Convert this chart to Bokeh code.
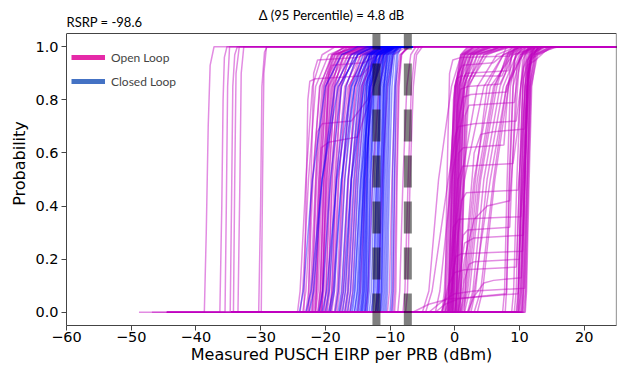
import math
from bokeh.plotting import figure
from bokeh.models import Legend, LegendItem, Label, FixedTicker, Range1d, ColumnDataSource
from bokeh.embed import file_html
from bokeh.resources import INLINE

# ---------------- data ----------------
X_TICKS = [-60, -50, -40, -30, -20, -10, 0, 10, 20]
X_TICK_LABELS = ["\u221260", "\u221250", "\u221240", "\u221230", "\u221220", "\u221210", "0", "10", "20"]
Y_TICKS = [0.0, 0.2, 0.4, 0.6, 0.8, 1.0]
Y_TICK_LABELS = ["0.0", "0.2", "0.4", "0.6", "0.8", "1.0"]

# 95th-percentile markers (closed loop, open loop)
P95_X = [-12.1, -7.25]

# probability levels for single-rise CDF curves (x values given per curve)
P_LEVELS = [0.0, 0.08, 0.5, 0.85, 0.97, 1.0]

# open loop: isolated far-left curves, (x, p) knots
OL_FAR_START = [-48.8, -46.8, -44.5, -44.5, -44.5, -44.5, -44.5, -44.5]
OL_FAR = [
    [(-38.7, 0), (-38.4, 0.3), (-38.1, 0.7), (-37.8, 0.93), (-37.2, 1)],
    [(-36.3, 0), (-36.0, 0.4), (-35.8, 0.8), (-35.6, 0.96), (-35.2, 1)],
    [(-35.5, 0), (-35.3, 0.4), (-35.1, 0.85), (-34.8, 1)],
    [(-34.7, 0), (-34.5, 0.4), (-34.3, 0.85), (-34.0, 0.97), (-33.6, 1)],
    [(-34.2, 0), (-34.0, 0.5), (-33.8, 0.9), (-33.3, 1)],
    [(-33.5, 0), (-33.2, 0.5), (-33.0, 0.9), (-32.6, 1)],
    [(-30.3, 0), (-30.0, 0.4), (-29.8, 0.85), (-29.4, 0.98), (-29.0, 1)],
    [(-29.9, 0), (-29.7, 0.5), (-29.5, 0.9), (-29.1, 1)],
]

# open loop: main left cluster, x at P_LEVELS
OL_LEFT_START = -34.5
OL_LEFT_END = -6.0
OL_LEFT = [
    [-24.3, -23.9, -23.0, -22.0, -20.5, -18.5],
    [-23.5, -23.0, -22.0, -20.8, -19.0, -17.0],
    [-22.8, -22.3, -21.5, -20.5, -18.5, -15.5],
    [-22.2, -21.8, -21.0, -20.0, -17.5, -14.0],
    [-21.8, -21.4, -20.8, -19.8, -18.5, -16.0],
    [-21.5, -21.1, -20.5, -19.5, -17.0, -13.0],
    [-21.2, -20.8, -20.2, -19.0, -16.5, -12.5],
    [-20.9, -20.5, -19.8, -18.7, -17.0, -14.5],
    [-20.6, -20.2, -19.5, -18.5, -16.0, -11.5],
    [-20.3, -19.9, -19.2, -18.0, -15.0, -11.0],
    [-20.0, -19.6, -18.9, -17.8, -16.0, -13.5],
    [-19.7, -19.3, -18.6, -17.5, -15.5, -12.0],
    [-19.4, -19.0, -18.3, -17.0, -14.5, -10.5],
    [-19.0, -18.6, -17.9, -16.8, -15.0, -12.5],
    [-18.6, -18.2, -17.4, -16.3, -14.0, -10.0],
    [-18.2, -17.8, -17.0, -15.8, -13.5, -11.0],
    [-17.8, -17.4, -16.5, -15.2, -13.0, -9.5],
    [-17.3, -16.9, -16.0, -14.8, -13.2, -11.0],
    [-16.8, -16.4, -15.5, -14.2, -12.5, -10.0],
    [-16.2, -15.8, -15.0, -13.8, -12.0, -9.0],
    [-15.0, -14.6, -13.8, -12.8, -11.2, -9.0],
    [-13.8, -13.4, -12.7, -11.7, -10.5, -8.0],
    [-12.2, -11.8, -11.2, -10.4, -9.5, -7.5],
    [-10.4, -10.1, -9.7, -9.2, -8.5, -7.0],
    [-9.8, -9.6, -9.3, -8.9, -8.3, -7.0],
    [-9.5, -9.3, -9.0, -8.7, -8.3, -7.2],
    [-9.3, -9.1, -8.9, -8.6, -8.2, -7.4],
    [-8.8, -8.5, -8.0, -7.4, -6.8, -6.0],
    [-8.0, -7.7, -7.2, -6.7, -6.2, -5.5],
    [-22.0, -21.6, -21.0, -20.2, -19.0, -15.0],
    [-20.8, -20.4, -19.7, -18.9, -17.8, -14.0],
    [-19.2, -18.8, -18.0, -16.5, -13.5, -9.0],
    [-21.0, -20.7, -20.2, -19.4, -18.0, -16.5],
    [-17.0, -16.6, -15.9, -14.5, -12.0, -8.5],
    [-23.9, -23.5, -22.6, -21.5, -19.5, -16.5],
    [-22.5, -22.1, -21.3, -20.3, -18.0, -13.5],
    [-21.6, -21.3, -20.7, -19.9, -18.8, -17.0],
    [-21.1, -20.8, -20.3, -19.6, -18.2, -15.5],
    [-20.7, -20.4, -19.9, -19.2, -17.5, -13.0],
    [-20.2, -19.9, -19.4, -18.6, -17.2, -14.8],
    [-19.8, -19.5, -19.0, -18.2, -16.5, -12.0],
    [-19.3, -19.0, -18.4, -17.6, -16.2, -13.8],
    [-18.4, -18.0, -17.3, -16.2, -14.5, -11.5],
    [-17.6, -17.2, -16.4, -15.4, -13.8, -10.5],
    [-16.5, -16.1, -15.3, -14.3, -12.8, -9.8],
    [-23.0, -22.6, -21.9, -20.9, -18.8, -14.5],
    [-7.6, -7.3, -6.9, -6.4, -5.9, -5.0],
]

# open loop: left cluster curves with a plateau, (x, p) knots
OL_LEFT_STEP = [
    [(-23.3, 0), (-23.0, 0.4), (-22.7, 0.8), (-22.4, 0.87), (-21.5, 0.88), (-14.5, 0.89), (-13.0, 0.93), (-12.0, 0.98), (-10.5, 1)],
    [(-22.0, 0), (-21.6, 0.4), (-21.2, 0.68), (-20.5, 0.71), (-16.0, 0.72), (-13.5, 0.8), (-12.0, 0.95), (-10.0, 1)],
    [(-21.5, 0), (-21.0, 0.4), (-20.6, 0.62), (-19.5, 0.64), (-15.0, 0.66), (-12.5, 0.85), (-11.0, 0.97), (-9.5, 1)],
    [(-20.5, 0), (-20.0, 0.5), (-19.5, 0.9), (-19.0, 0.93), (-14.0, 0.94), (-11.0, 0.98), (-9.0, 1)],
    [(-22.6, 0), (-22.2, 0.5), (-21.8, 0.9), (-21.2, 0.95), (-15.0, 0.96), (-12.0, 0.99), (-10.0, 1)],
]

# closed loop, x at P_LEVELS
CL_START = -24.5
CL_END = -6.5
CL = [
    [-24.0, -23.4, -22.0, -20.0, -17.5, -15.0],
    [-22.5, -21.8, -20.5, -18.5, -16.0, -13.5],
    [-21.0, -20.4, -19.2, -17.5, -15.5, -13.0],
    [-20.0, -19.4, -18.3, -16.8, -15.0, -12.5],
    [-19.2, -18.6, -17.5, -16.0, -14.2, -12.0],
    [-18.5, -18.0, -17.0, -15.5, -13.8, -11.5],
    [-18.0, -17.5, -16.5, -15.0, -13.5, -11.5],
    [-17.4, -16.9, -16.0, -14.7, -13.2, -11.0],
    [-17.0, -16.5, -15.6, -14.4, -13.0, -11.0],
    [-16.6, -16.1, -15.2, -14.1, -12.8, -10.8],
    [-16.2, -15.7, -14.9, -13.8, -12.5, -10.5],
    [-15.8, -15.4, -14.6, -13.6, -12.4, -10.5],
    [-15.5, -15.1, -14.4, -13.5, -12.3, -10.3],
    [-15.2, -14.8, -14.2, -13.3, -12.2, -10.2],
    [-15.0, -14.7, -14.1, -13.2, -12.0, -10.0],
    [-14.8, -14.5, -14.0, -13.2, -12.0, -10.0],
    [-14.6, -14.3, -13.8, -13.0, -11.8, -9.8],
    [-14.4, -14.1, -13.6, -12.8, -11.6, -9.8],
    [-14.2, -13.9, -13.4, -12.6, -11.5, -9.6],
    [-14.0, -13.7, -13.2, -12.4, -11.4, -9.5],
    [-13.8, -13.5, -13.0, -12.2, -11.2, -9.5],
    [-13.5, -13.2, -12.7, -12.0, -11.0, -9.4],
    [-13.2, -12.9, -12.4, -11.8, -10.9, -9.3],
    [-12.9, -12.6, -12.1, -11.5, -10.7, -9.2],
    [-12.6, -12.3, -11.9, -11.3, -10.6, -9.2],
    [-12.3, -12.0, -11.6, -11.1, -10.4, -9.0],
    [-12.0, -11.8, -11.4, -10.9, -10.2, -9.0],
    [-11.8, -11.6, -11.2, -10.7, -10.0, -8.8],
    [-11.6, -11.4, -11.0, -10.6, -10.0, -8.8],
    [-11.4, -11.2, -10.9, -10.5, -9.8, -8.7],
    [-11.2, -11.0, -10.7, -10.3, -9.7, -8.6],
    [-11.0, -10.8, -10.5, -10.1, -9.5, -8.5],
    [-10.6, -10.4, -10.1, -9.7, -9.3, -8.5],
    [-10.0, -9.8, -9.6, -9.3, -9.0, -8.3],
    [-9.7, -9.5, -9.3, -9.1, -8.8, -8.2],
    [-14.5, -14.2, -13.9, -13.6, -13.2, -12.0],
    [-13.9, -13.7, -13.5, -13.2, -12.8, -11.5],
    [-12.2, -12.0, -11.8, -11.5, -11.0, -10.0],
    [-11.5, -11.3, -11.1, -10.9, -10.5, -9.5],
    [-16.0, -15.5, -14.5, -13.0, -11.5, -9.5],
    [-19.5, -18.8, -17.5, -15.5, -13.0, -10.5],
    [-17.8, -17.2, -16.0, -14.0, -12.0, -10.0],
    [-14.3, -14.0, -13.6, -13.0, -12.0, -10.5],
    [-13.6, -13.4, -13.0, -12.5, -11.5, -10.0],
    [-12.8, -12.5, -12.1, -11.6, -10.8, -9.6],
    [-11.9, -11.7, -11.4, -11.0, -10.3, -9.3],
    [-10.8, -10.6, -10.3, -10.0, -9.6, -8.8],
    [-15.5, -15.0, -14.0, -12.6, -11.0, -9.2],
    [-20.5, -19.8, -18.2, -16.0, -13.5, -11.0],
    [-23.0, -22.2, -20.5, -18.0, -15.0, -12.5],
]

# open loop: right cluster single-rise curves, x at P_LEVELS
OL_RIGHT_START = -24.5
OL_RIGHT = [
    [-1.5, -1.2, -0.6, 0.0, 1.5, 4.0],
    [-1.2, -0.9, -0.3, 0.3, 2.0, 5.0],
    [-1.0, -0.7, -0.1, 0.5, 2.5, 6.0],
    [-0.8, -0.5, 0.1, 0.7, 2.0, 5.5],
    [-0.6, -0.3, 0.3, 0.9, 3.0, 7.5],
    [-0.4, -0.1, 0.5, 1.1, 2.5, 6.0],
    [-0.2, 0.1, 0.7, 1.3, 3.5, 8.0],
    [0.0, 0.3, 0.9, 1.5, 3.0, 7.0],
    [0.3, 0.6, 1.2, 1.8, 4.0, 8.5],
    [-2.0, -1.6, -0.8, 0.2, 1.5, 3.5],
    [0.6, 0.9, 1.5, 2.2, 4.5, 9.0],
    [-0.9, -0.6, 0.0, 0.6, 1.8, 4.5],
    [-0.7, -0.5, -0.1, 0.4, 1.2, 2.5],
    [-0.3, -0.1, 0.3, 0.8, 1.6, 3.0],
    [0.1, 0.3, 0.7, 1.2, 2.2, 4.0],
    [-1.1, -0.9, -0.4, 0.1, 0.9, 2.0],
    [0.4, 0.6, 1.0, 1.5, 2.8, 5.5],
    [-1.3, -1.0, -0.4, 0.2, 1.0, 2.2],
    [-0.5, -0.3, 0.2, 0.7, 1.4, 2.8],
    [0.2, 0.4, 0.9, 1.4, 2.5, 5.0],
    [-1.8, -1.4, -0.7, 0.0, 1.2, 3.2],
    [0.8, 1.0, 1.4, 2.0, 3.5, 7.0],
    [9.5, 9.8, 10.3, 10.8, 11.5, 12.5],
    [9.8, 10.1, 10.6, 11.1, 11.8, 13.0],
    [10.0, 10.3, 10.8, 11.3, 12.0, 13.5],
    [10.3, 10.6, 11.1, 11.5, 12.3, 14.0],
    [10.6, 10.9, 11.3, 11.7, 12.5, 15.0],
    [9.2, 9.5, 10.0, 10.5, 11.2, 12.5],
    [8.8, 9.1, 9.6, 10.2, 11.0, 12.0],
    [10.8, 11.0, 11.4, 11.8, 12.8, 15.5],
    [10.2, 10.4, 10.8, 11.2, 11.9, 13.2],
    [10.9, 11.1, 11.5, 11.9, 12.6, 14.5],
    [9.9, 10.2, 10.7, 11.2, 11.9, 13.8],
    [10.4, 10.7, 11.2, 11.6, 12.4, 14.8],
    [9.6, 9.9, 10.4, 10.9, 11.7, 13.2],
    [7.4, 7.7, 8.1, 8.6, 9.5, 11.0],
    [7.8, 8.0, 8.4, 9.0, 10.2, 12.0],
    [-3.0, -2.3, -0.5, 2.0, 5.0, 8.0],
    [-4.5, -3.5, -1.0, 1.5, 4.5, 7.0],
    [1.0, 1.8, 3.5, 6.0, 8.5, 11.0],
    [2.5, 3.2, 5.0, 7.5, 9.5, 12.0],
    [0.5, 1.2, 3.0, 5.5, 9.0, 13.0],
    [-5.0, -4.0, -2.5, -0.5, 1.0, 3.0],
    [1.5, 2.3, 4.0, 6.5, 8.0, 10.0],
    [3.0, 4.0, 6.0, 8.0, 10.0, 12.5],
    [-2.0, -1.0, 1.0, 3.5, 6.5, 9.5],
    [2.0, 2.8, 4.5, 7.0, 9.0, 11.5],
    [1.2, 2.0, 3.8, 6.2, 8.2, 10.5],
    [0.8, 1.6, 3.2, 5.0, 7.5, 10.0],
    [3.5, 4.3, 6.2, 8.3, 10.2, 12.8],
    [2.2, 3.0, 5.5, 8.0, 10.5, 13.5],
    [-1.5, -0.5, 1.5, 4.5, 7.5, 10.5],
]

# open loop: right cluster two-step curves, (x, p) knots
OL_RIGHT_STEP = [
    [(-1.0, 0), (-0.6, 0.4), (-0.2, 0.8), (0.3, 0.88), (1.0, 0.89), (7.3, 0.89), (7.8, 0.92), (8.3, 0.98), (9.0, 1)],
    [(-0.5, 0), (0.0, 0.4), (0.4, 0.78), (0.9, 0.84), (2.0, 0.85), (7.0, 0.86), (7.8, 0.9), (8.6, 0.98), (9.5, 1)],
    [(0.0, 0), (0.4, 0.4), (0.8, 0.75), (1.3, 0.81), (2.5, 0.82), (8.0, 0.83), (8.8, 0.9), (9.5, 0.98), (10.5, 1)],
    [(-1.5, 0), (-1.2, 0.5), (-0.8, 0.9), (-0.3, 0.95), (1.0, 0.96), (8.5, 0.965), (9.2, 0.99), (10.0, 1)],
    [(-0.8, 0), (-0.4, 0.4), (0.0, 0.66), (0.6, 0.7), (3.0, 0.71), (9.5, 0.72), (10.2, 0.85), (10.8, 0.97), (11.8, 1)],
    [(-0.3, 0), (0.1, 0.3), (0.5, 0.5), (1.2, 0.55), (9.0, 0.56), (9.8, 0.7), (10.5, 0.95), (11.5, 1)],
    [(0.2, 0), (0.6, 0.3), (1.0, 0.42), (1.8, 0.45), (9.8, 0.46), (10.5, 0.7), (11.2, 0.95), (12.5, 1)],
    [(-1.0, 0), (-0.6, 0.2), (-0.2, 0.32), (0.6, 0.35), (10.2, 0.36), (10.8, 0.6), (11.4, 0.92), (12.8, 1)],
    [(0.5, 0), (0.9, 0.2), (1.3, 0.29), (2.0, 0.31), (8.5, 0.32), (9.0, 0.6), (9.6, 0.93), (11.0, 1)],
    [(-0.7, 0), (-0.3, 0.15), (0.2, 0.21), (1.0, 0.22), (10.5, 0.23), (11.0, 0.6), (11.6, 0.95), (13.0, 1)],
    [(-2.0, 0), (-1.0, 0.1), (0.0, 0.15), (1.5, 0.16), (9.5, 0.17), (10.0, 0.5), (10.6, 0.92), (12.0, 1)],
    [(1.0, 0), (1.5, 0.12), (2.2, 0.18), (3.0, 0.19), (10.0, 0.2), (10.7, 0.6), (11.3, 0.95), (12.5, 1)],
    [(-4.0, 0), (-2.0, 0.04), (0.0, 0.07), (3.0, 0.08), (10.8, 0.09), (11.2, 0.5), (11.8, 0.95), (13.5, 1)],
    [(-6.5, 0), (-4.0, 0.03), (-1.0, 0.05), (5.0, 0.06), (9.8, 0.07), (10.3, 0.5), (11.0, 0.93), (12.2, 1)],
    [(-0.2, 0), (0.2, 0.4), (0.6, 0.6), (1.3, 0.62), (7.6, 0.63), (8.1, 0.8), (8.8, 0.97), (10.0, 1)],
    [(0.8, 0), (1.2, 0.4), (1.6, 0.74), (2.2, 0.78), (9.2, 0.79), (9.8, 0.9), (10.5, 0.98), (12.0, 1)],
    [(1.5, 0), (2.0, 0.3), (3.0, 0.6), (4.0, 0.67), (6.0, 0.68), (10.8, 0.69), (11.3, 0.9), (12.0, 0.98), (14.0, 1)],
    [(0.2, 0), (0.6, 0.5), (1.0, 0.87), (1.8, 0.9), (8.3, 0.91), (8.7, 0.96), (9.2, 0.99), (10.0, 1)],
    [(2.0, 0), (3.0, 0.06), (4.5, 0.11), (6.0, 0.12), (10.3, 0.13), (10.8, 0.5), (11.4, 0.94), (13.0, 1)],
    [(0.5, 0), (1.5, 0.2), (3.0, 0.35), (5.0, 0.4), (8.5, 0.42), (9.3, 0.7), (10.0, 0.95), (11.5, 1)],
    [(9.8, 0), (10.2, 0.5), (10.6, 0.88), (11.2, 0.93), (12.5, 0.95), (13.8, 0.98), (15.0, 1)],
    [(10.5, 0), (10.9, 0.5), (11.3, 0.9), (12.2, 0.96), (14.5, 0.99), (16.0, 1)],
    [(-0.4, 0), (0.0, 0.5), (0.5, 0.9), (1.2, 0.93), (6.0, 0.94), (7.5, 0.97), (8.0, 1)],
    [(-3.0, 0), (-1.5, 0.03), (0.5, 0.05), (4.0, 0.06), (8.0, 0.07), (8.5, 0.5), (9.2, 0.95), (10.5, 1)],
    [(0.0, 0), (0.5, 0.1), (1.5, 0.26), (3.0, 0.28), (10.6, 0.29), (11.1, 0.7), (11.7, 0.96), (13.5, 1)],
]

CURVE_END = 26.0
X_RANGE = (-60, 25)
Y_RANGE = (-0.05, 1.05)

# ---------------- build polylines ----------------
def from_levels(rows, start, end):
    xs, ys = [], []
    for r in rows:
        xs.append([start] + list(r) + [end])
        ys.append([0.0] + list(P_LEVELS) + [1.0])
    return xs, ys

def from_knots(curves, starts, end):
    xs, ys = [], []
    for c, s in zip(curves, starts):
        xs.append([s] + [k[0] for k in c] + [end])
        ys.append([0.0] + [k[1] for k in c] + [1.0])
    return xs, ys

ol_left_xs, ol_left_ys = [], []
for (a, b) in [
    from_knots(OL_FAR, OL_FAR_START, CURVE_END),
    from_levels(OL_LEFT, OL_LEFT_START, OL_LEFT_END),
    from_knots(OL_LEFT_STEP, [OL_LEFT_START] * len(OL_LEFT_STEP), OL_LEFT_END),
]:
    ol_left_xs += a
    ol_left_ys += b

ol_right_xs, ol_right_ys = [], []
for (a, b) in [
    from_levels(OL_RIGHT, OL_RIGHT_START, CURVE_END),
    from_knots(OL_RIGHT_STEP, [OL_RIGHT_START] * len(OL_RIGHT_STEP), CURVE_END),
]:
    ol_right_xs += a
    ol_right_ys += b

cl_xs, cl_ys = from_levels(CL, CL_START, CL_END)

# ---------------- figure ----------------
MAGENTA = "#bf00bf"
BLUE = "#0000ff"
AXIS_COLOR = "#444444"

# layout (pixels): the drawing area reaches up into the header so that
# the two header texts can be placed with data-unit labels
W, H = 617, 369
BORDER_L, BORDER_R, BORDER_T, BORDER_B = 66, 1, 1, 44
HEADER_PX = 32  # pixels between frame top and the visible axes box top
frame_h = H - BORDER_T - BORDER_B
box_h = frame_h - HEADER_PX
y_top = Y_RANGE[0] + (Y_RANGE[1] - Y_RANGE[0]) * frame_h / box_h

p = figure(width=W, height=H, output_backend="svg", toolbar_location=None, title=None,
           x_range=Range1d(*X_RANGE), y_range=Range1d(Y_RANGE[0], y_top),
           min_border_left=BORDER_L, min_border_right=BORDER_R,
           min_border_top=BORDER_T, min_border_bottom=BORDER_B)
p.grid.visible = False
p.outline_line_color = None
p.background_fill_color = "white"
p.border_fill_color = "white"

p.multi_line(xs=ol_left_xs, ys=ol_left_ys, line_color=MAGENTA, line_alpha=0.45, line_width=1.5)
p.multi_line(xs=cl_xs, ys=cl_ys, line_color=BLUE, line_alpha=0.42, line_width=1.5)
p.multi_line(xs=ol_right_xs, ys=ol_right_ys, line_color=MAGENTA, line_alpha=0.45, line_width=1.5)

p.segment(x0=P95_X, y0=[Y_RANGE[0]] * len(P95_X), x1=P95_X, y1=[Y_RANGE[1]] * len(P95_X),
          line_color="black", line_alpha=0.5, line_width=8, line_dash="32 14")

# visible axes box: top and right edges
p.segment(x0=[X_RANGE[0], X_RANGE[1]], y0=[Y_RANGE[1], Y_RANGE[0]],
          x1=[X_RANGE[1], X_RANGE[1]], y1=[Y_RANGE[1], Y_RANGE[1]],
          line_color=AXIS_COLOR, line_width=1.2)

# axes
for ax in (p.xaxis[0], p.yaxis[0]):
    ax.axis_line_color = AXIS_COLOR
    ax.major_tick_line_color = AXIS_COLOR
    ax.minor_tick_line_color = None
    ax.major_tick_out = 5
    ax.major_tick_in = 0
    ax.major_label_text_font = "DejaVu Sans"
    ax.major_label_text_font_size = "14.5px"
    ax.major_label_text_color = "black"
    ax.axis_label_text_font = "DejaVu Sans"
    ax.axis_label_text_font_size = "16px"
    ax.axis_label_text_font_style = "normal"
    ax.axis_label_text_color = "black"

p.yaxis.bounds = Y_RANGE
p.xaxis.ticker = FixedTicker(ticks=X_TICKS)
p.xaxis.major_label_overrides = dict(zip(X_TICKS, X_TICK_LABELS))
p.yaxis.ticker = FixedTicker(ticks=Y_TICKS)
p.yaxis.major_label_overrides = dict(zip(Y_TICKS, Y_TICK_LABELS))
p.xaxis.axis_label = "Measured PUSCH EIRP per PRB (dBm)"
p.yaxis.axis_label = "Probability"
p.xaxis.major_label_standoff = 1
p.xaxis.axis_label_standoff = 0
p.yaxis.major_label_standoff = 3
p.yaxis.axis_label_standoff = 3

# header texts
p.add_layout(Label(x=X_RANGE[0], y=1.095, text="RSRP = -98.6", text_font="Lato",
                   text_font_size="13px", text_baseline="middle", text_color="black"))
p.add_layout(Label(x=-30.3, y=1.118, text="\u0394 (95 Percentile) = 4.8 dB", text_font="Lato",
                   text_font_size="13px", text_baseline="middle", text_align="left",
                   text_color="black"))

# legend
nan_src = dict(x=[math.nan], y=[math.nan])
r_ol = p.line(x="x", y="y", source=ColumnDataSource(nan_src), line_color="#e52aa8", line_width=5)
r_cl = p.line(x="x", y="y", source=ColumnDataSource(dict(nan_src)), line_color="#4472c4", line_width=5)
legend = Legend(items=[LegendItem(label="Open Loop", renderers=[r_ol]),
                       LegendItem(label="Closed Loop", renderers=[r_cl])],
                location=(5, 234), orientation="vertical",
                border_line_alpha=0, background_fill_alpha=0,
                label_text_font="Lato", label_text_font_size="12px",
                glyph_width=34, glyph_height=20, label_height=20, spacing=4,
                padding=0, margin=0, label_standoff=6)
p.add_layout(legend)

open("out.html", "w").write(file_html(p, INLINE))
